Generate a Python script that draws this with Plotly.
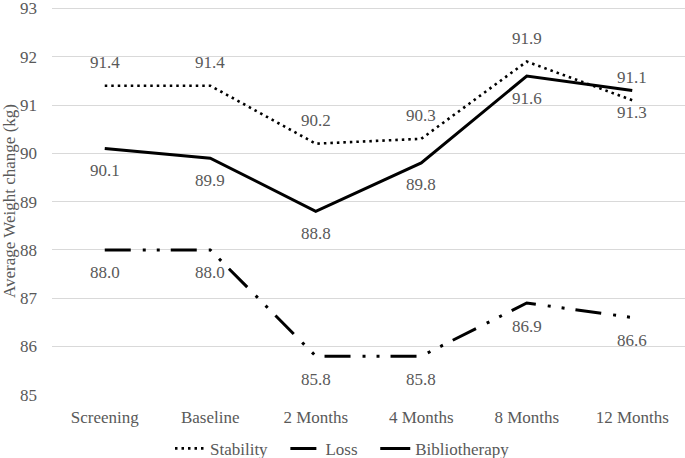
import plotly.graph_objects as go

categories = ["Screening", "Baseline", "2 Months", "4 Months", "8 Months", "12 Months"]
stability = [91.4, 91.4, 90.2, 90.3, 91.9, 91.1]
loss = [88.0, 88.0, 85.8, 85.8, 86.9, 86.6]
bibliotherapy = [90.1, 89.9, 88.8, 89.8, 91.6, 91.3]
y_ticks = [85, 86, 87, 88, 89, 90, 91, 92, 93]

font_family = "Liberation Serif, Times New Roman, DejaVu Serif, serif"
gray = "#595959"
nb = "\u00a0"

series = [
    ("Stability" + nb * 3, stability, dict(color="black", width=2.6, dash="2.5px,4px"), 23),
    ("Loss" + nb * 3, loss, dict(color="black", width=3, dash="26px,12px,3px,11px,3px,11px"), -23),
    ("Bibliotherapy", bibliotherapy, dict(color="black", width=3), -22),
]

fig = go.Figure()
annotations = []
for name, vals, line, shift in series:
    fig.add_trace(go.Scatter(x=categories, y=vals, name=name, mode="lines", line=line))
    for c, v in zip(categories, vals):
        annotations.append(dict(x=c, y=v, text=f"{v:.1f}", showarrow=False, yshift=shift,
                                font=dict(family=font_family, size=17, color=gray)))

fig.update_layout(
    width=685, height=458,
    margin=dict(l=52, r=0, t=7, b=63),
    paper_bgcolor="white", plot_bgcolor="white",
    font=dict(family=font_family, size=17, color=gray),
    showlegend=True,
    annotations=annotations,
    legend=dict(orientation="h", xref="container", yref="container",
                x=0.5, xanchor="center", y=0.02, yanchor="middle",
                font=dict(family=font_family, size=17, color=gray),
                traceorder="normal"),
    xaxis=dict(type="category", range=[-0.5, 5.5], showgrid=False, automargin=False,
               showline=False, ticks="", ticklabelstandoff=10,
               tickfont=dict(family=font_family, size=17, color=gray)),
    yaxis=dict(range=[84.995, 93.03], tickvals=y_ticks, showgrid=True, gridcolor="#d9d9d9",
               gridwidth=1, zeroline=False, showline=False, ticks="", automargin=False,
               ticklabelstandoff=14, ticklabeloverflow="allow",
               tickfont=dict(family=font_family, size=17, color=gray),
               title=dict(text="Average Weight change (kg)", standoff=0,
                          font=dict(family=font_family, size=17, color=gray))),
)

fig.write_html("out.html", config={"displayModeBar": False},
               post_script="document.body.style.margin='0';")
